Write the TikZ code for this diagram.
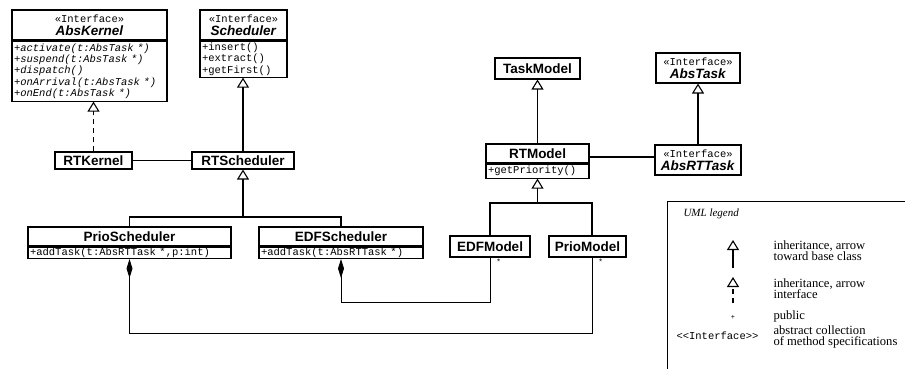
\documentclass[tikz,border=0pt]{standalone}
\usepackage{fontspec}
\setmainfont{Liberation Serif}
\setsansfont{Liberation Sans}
\setmonofont{Liberation Mono}
\usetikzlibrary{arrows.meta,positioning}

\newcommand{\umlname}{\fontsize{13.5}{13}\selectfont\sffamily\bfseries}
\newcommand{\umlops}{\fontsize{10.5}{11.2}\selectfont\ttfamily}
\newcommand{\umlstereo}{\fontsize{10.5}{11}\selectfont\ttfamily\mdseries\upshape}
\newcommand{\legendtext}{\fontsize{12.6}{11}\selectfont\rmfamily}

\tikzset{
  classbox/.style={draw, line width=1.1pt, inner sep=0pt, align=center, font=\umlname},
  opsbox/.style={draw, line width=1.1pt, inner xsep=2pt, inner ysep=0.8pt, align=left, font=\umlops},
  inherit/.style={-{Triangle[open,length=10pt,width=12pt]}, line width=1.1pt},
  realize/.style={inherit, dash pattern=on 5pt off 4pt},
  link/.style={line width=1.1pt},
  compose/.style={{Diamond[length=19pt,width=6pt]}-, line width=1pt},
  mult/.style={font=\fontsize{8}{8}\selectfont\sffamily, inner sep=1pt, anchor=north west},
  legendnote/.style={font=\legendtext, align=left, anchor=west}
}

\begin{document}
\begin{tikzpicture}[x=1pt,y=1pt]
\useasboundingbox (0,0) rectangle (905,-369);

% scheduler side
\node[classbox, minimum width=155, minimum height=30] (abskernel) at (89.5,-25) {{\umlstereo «Interface»}\\\textit{AbsKernel}};
\node[opsbox, text width=151, minimum height=60, below=0pt of abskernel] (abskernelops) {\itshape +activate(t:AbsTask *)\\+suspend(t:AbsTask *)\\+dispatch()\\+onArrival(t:AbsTask *)\\+onEnd(t:AbsTask *)};
\node[classbox, minimum width=87, minimum height=30] (scheduler) at (243.5,-25) {{\umlstereo «Interface»}\\\textit{Scheduler}};
\node[opsbox, text width=83, minimum height=36, below=0pt of scheduler] (schedulerops) {+insert()\\+extract()\\+getFirst()};
\node[classbox, minimum width=77, minimum height=17] (rtkernel) at (93.5,-160.5) {RTKernel};
\node[classbox, minimum width=102, minimum height=17] (rtscheduler) at (243,-160.5) {RTScheduler};
\node[classbox, minimum width=203, minimum height=19] (prioscheduler) at (129.5,-236.5) {PrioScheduler};
\node[opsbox, text width=199, minimum height=11, below=0pt of prioscheduler] (prioschedulerops) {+addTask(t:AbsRTTask *,p:int)};
\node[classbox, minimum width=164, minimum height=19] (edfscheduler) at (341,-236.5) {EDFScheduler};
\node[opsbox, text width=160, minimum height=11, below=0pt of edfscheduler] (edfschedulerops) {+addTask(t:AbsRTTask *)};

% task side
\node[classbox, minimum width=85, minimum height=21] (taskmodel) at (537.5,-68.5) {TaskModel};
\node[classbox, minimum width=103, minimum height=19] (rtmodel) at (537.5,-153.5) {RTModel};
\node[opsbox, text width=99, minimum height=14, below=0pt of rtmodel] (rtmodelops) {+getPriority()};
\node[classbox, minimum width=84, minimum height=30] (abstask) at (698,-68) {{\umlstereo «Interface»}\\\textit{AbsTask}};
\node[classbox, minimum width=86, minimum height=30] (absrttask) at (698,-160) {{\umlstereo «Interface»}\\\textit{AbsRTTask}};
\node[classbox, minimum width=80, minimum height=21] (edfmodel) at (490,-246.5) {EDFModel};
\node[classbox, minimum width=77, minimum height=21] (priomodel) at (587.5,-246.5) {PrioModel};
\node[mult] (edfmult) at ([xshift=6]edfmodel.south) {*};
\coordinate (priotap) at (592,-203);
\node[mult] (priomult) at ([xshift=6]priotap |- priomodel.south) {*};

% connectors
\draw[realize] (rtkernel.north) -- (rtkernel.north |- abskernelops.south);
\draw[link] (rtkernel) -- (rtscheduler);
\draw[inherit] (rtscheduler) -- (rtscheduler.north |- schedulerops.south);
\coordinate (schedjoin) at (243,-217);
\draw[link] (prioscheduler.north) |- (schedjoin -| edfscheduler.north) -- (edfscheduler.north);
\draw[inherit] (schedjoin) -- (rtscheduler.south);

\draw[inherit] (rtmodel) -- (taskmodel);
\draw[inherit] (absrttask) -- (abstask);
\coordinate (assoc) at (0,-157);
\draw[link] (rtmodel.east |- assoc) -- (absrttask.west |- assoc);
\coordinate (modeljoin) at (537.5,-203);
\draw[link] (edfmodel.north) |- (priotap) -- (priotap |- priomodel.north);
\draw[inherit] (modeljoin) -- (rtmodelops.south);

\coordinate (edfbottom) at (0,-302);
\coordinate (priobottom) at (0,-333);
\draw[compose] (edfschedulerops.south) |- (edfbottom -| edfmodel.south) -- (edfmodel.south);
\draw[compose] (prioschedulerops.south) |- (priobottom -| priotap) -- (priotap |- priomodel.south);

% legend
\draw[line width=1pt] (905,-201) -| (667,-369);
\node[font=\fontsize{11}{11}\selectfont\rmfamily\itshape, anchor=west] (legendtitle) at (680,-214) {UML legend};
\coordinate (basetail) at (733,-268);
\coordinate (basehead) at (733,-240);
\draw[inherit] (basetail) -- (basehead);
\node[legendnote] (basenote) at (770,-251) {inheritance, arrow\\toward base class};
\coordinate (ifacetail) at (733,-303);
\coordinate (ifacehead) at (733,-277);
\draw[realize] (ifacetail) -- (ifacehead);
\node[legendnote] (ifacenote) at (770,-289) {inheritance, arrow\\interface};
\node[font=\fontsize{7}{7}\selectfont\ttfamily] (plussign) at (733,-317) {+};
\node[legendnote] (publicnote) at (770,-316) {public};
\node[font=\umlstereo, anchor=west] (stereokey) at (673,-336) {<{}<Interface>{}>};
\node[legendnote] (stereonote) at (770,-337) {abstract collection\\of method specifications};
\end{tikzpicture}
\end{document}
